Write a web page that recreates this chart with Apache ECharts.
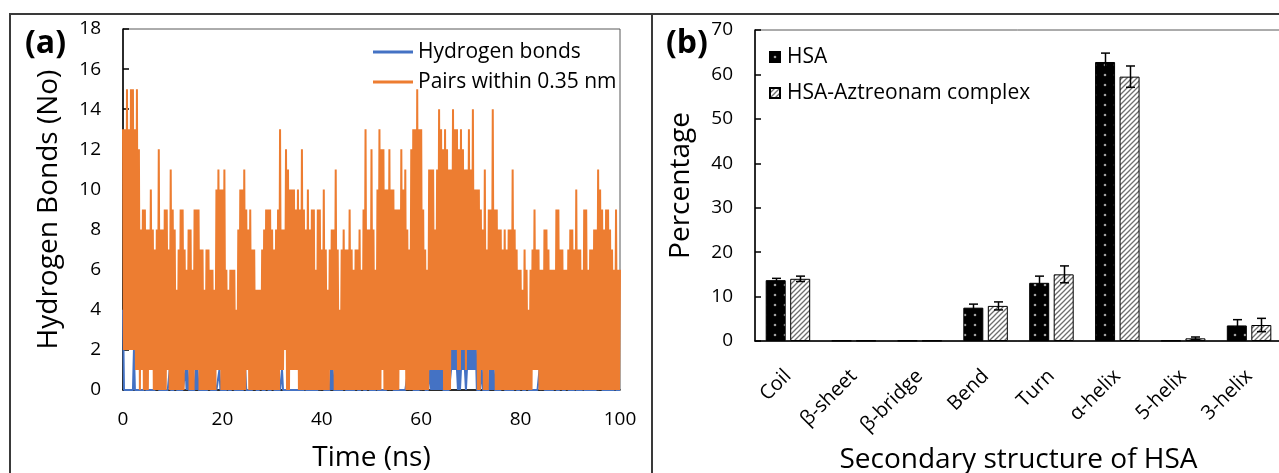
<!DOCTYPE html>
<html>
<head>
<meta charset="utf-8">
<script src="https://cdn.jsdelivr.net/npm/echarts@6/dist/echarts.min.js"></script>
<style>
  html, body { margin: 0; padding: 0; background: #fff; }
  #chart { width: 1279px; height: 473px; }
</style>
</head>
<body>
<div id="chart"></div>
<script>
// ---------- Panel (a): MD trajectory, sampled every 0.2 ns ----------
const timeStepNs = 0.2;

// Pairs within 0.35 nm (one row = 2 ns)
const pairsWithin035 = [
  13,2,13,2,15,2,13,2,15,2,
  15,2,13,1,15,1,12,0,8,1,
  9,0,9,0,8,0,8,1,10,1,
  8,0,7,0,8,0,12,0,8,0,
  8,0,9,0,9,1,7,0,11,0,
  9,0,8,0,5,0,7,0,9,0,
  9,0,7,1,6,1,8,0,8,0,
  6,0,9,1,9,1,9,0,7,0,
  7,0,5,0,7,0,7,0,6,0,
  6,0,5,0,10,1,11,1,10,0,
  10,0,11,0,6,0,5,0,6,0,
  6,0,6,0,4,0,8,0,10,0,
  10,0,11,0,9,1,8,0,9,0,
  7,0,7,0,5,0,5,0,5,0,
  7,0,8,0,9,0,9,0,9,0,
  8,0,7,0,8,0,9,0,13,1,
  8,1,8,2,12,0,11,0,10,1,
  10,1,10,1,9,1,10,0,9,0,
  12,0,9,0,8,0,10,0,8,0,
  9,0,9,0,6,0,9,0,9,0,
  7,0,10,0,7,0,5,0,7,1,
  8,1,8,0,11,0,7,0,4,0,
  7,0,8,0,7,0,7,0,9,0,
  7,0,6,0,7,0,7,0,8,0,
  6,0,9,0,13,0,8,0,8,0,
  12,0,8,0,6,0,10,0,13,0,
  12,1,12,0,10,0,10,0,12,0,
  10,0,10,0,9,0,9,0,9,1,
  12,1,10,1,11,0,8,0,7,0,
  12,0,13,0,13,0,15,0,13,0,
  13,0,9,0,7,0,6,0,11,1,
  11,1,11,1,8,1,11,1,14,1,
  13,1,12,0,13,0,12,0,11,0,
  11,2,14,2,13,2,13,1,12,1,
  13,2,12,2,11,1,11,2,13,2,
  11,2,14,2,10,2,10,0,10,0,
  9,1,8,0,11,0,7,0,9,1,
  9,1,14,1,9,0,9,0,8,0,
  8,0,7,0,8,0,7,0,8,0,
  8,0,11,0,8,0,7,0,6,0,
  6,0,5,0,7,0,6,0,4,0,
  6,0,7,1,9,1,7,1,7,0,
  6,0,6,0,8,0,8,0,7,0,
  6,0,6,0,6,0,9,0,9,0,
  7,0,7,0,6,0,6,0,7,0,
  8,0,8,0,7,0,10,0,7,0,
  7,0,6,0,9,0,9,0,6,0,
  7,0,7,0,8,0,8,0,11,0,
  10,0,9,0,8,0,9,0,9,0,
  8,0,7,0,6,0,9,0,6,0,
  6
];

// Hydrogen bonds (one row = 2 ns)
const hydrogenBonds = [
  4,0,0,0,0,0,0,0,0,0,
  0,2,0,0,0,0,0,0,0,0,
  0,0,1,0,0,0,0,0,0,0,
  0,0,0,0,0,1,0,0,0,0,
  0,0,0,0,0,0,0,1,0,0,
  0,0,0,1,0,0,0,0,0,0,
  0,0,0,1,0,1,0,0,0,0,
  0,0,0,1,0,1,0,0,0,0,
  0,0,0,0,0,0,0,1,0,0,
  0,0,0,0,0,0,0,1,0,0,
  0,0,0,0,0,1,0,0,0,0,
  0,1,0,0,0,0,0,0,0,0,
  0,0,0,1,0,0,0,0,0,0,
  0,0,0,1,0,0,0,0,0,1,
  0,0,0,0,0,1,0,0,0,0,
  0,1,0,0,0,0,0,0,0,0,
  1,0,0,0,0,0,0,0,0,0,
  0,0,0,0,0,0,0,0,0,0,
  0,0,0,1,0,0,0,0,0,0,
  0,0,0,0,0,0,0,1,0,0,
  0,1,0,0,0,0,0,0,0,1,
  0,1,0,0,0,0,0,0,0,0,
  0,0,0,1,0,0,0,0,0,0,
  0,0,0,0,0,1,0,0,0,0,
  0,1,0,0,0,0,0,1,0,0,
  0,0,0,0,0,1,0,0,0,0,
  0,0,0,0,0,0,0,1,0,0,
  0,1,0,0,0,0,0,0,0,0,
  0,0,0,0,0,0,0,1,0,0,
  0,1,0,0,0,0,0,0,0,1,
  0,0,0,1,0,0,0,0,0,1,
  0,1,0,1,0,1,0,1,0,1,
  0,1,0,0,0,0,0,0,0,0,
  1,2,1,2,1,2,1,0,1,0,
  1,2,1,2,1,0,1,2,1,2,
  1,2,1,2,1,2,0,0,0,0,
  0,1,0,0,0,0,0,0,0,1,
  0,1,0,1,0,0,0,0,0,0,
  0,0,0,1,0,0,0,0,0,0,
  0,0,0,0,0,1,0,0,0,0,
  0,1,0,0,0,0,0,1,0,0,
  0,0,0,0,0,0,0,0,0,1,
  0,0,0,1,0,0,0,0,0,0,
  0,0,0,0,0,1,0,0,0,0,
  0,1,0,0,0,0,0,1,0,0,
  0,0,0,0,0,1,0,0,0,0,
  0,0,0,1,0,0,0,0,0,0,
  0,0,0,0,0,0,0,1,0,0,
  0,1,0,0,0,0,0,0,0,0,
  0,0,0,0,0,1,0,0,0,0,
  0
];

// ---------- Panel (b): secondary structure content (%) ----------
const structures = ['Coil', 'β-sheet', 'β-bridge', 'Bend', 'Turn', 'α-helix', '5-helix', '3-helix'];
const hsaPct      = [13.7, 0.1, 0.1, 7.5, 13.1, 62.8, 0.1, 3.5];
const hsaErr      = [0.4, 0, 0, 0.8, 1.5, 2.0, 0, 1.3];
const complexPct  = [14.0, 0.1, 0.1, 7.9, 15.0, 59.5, 0.6, 3.6];
const complexErr  = [0.6, 0, 0, 0.9, 1.9, 2.4, 0.3, 1.5];

const FONT = "'Open Sans', sans-serif";
const BLUE = '#4472C4';
const ORANGE = '#ED7D31';

// Fill tiles for the bars: black with light dots, and grey diagonal hatching
function makeTile(size, draw) {
  const c = document.createElement('canvas');
  c.width = size; c.height = size;
  draw(c.getContext('2d'), size);
  return c;
}
const dotTile = makeTile(10, (g, s) => {
  g.fillStyle = '#000'; g.fillRect(0, 0, s, s);
  g.fillStyle = '#a0a0a0';
  g.beginPath(); g.arc(5, 5, 1.3, 0, Math.PI * 2); g.fill();
});
const hatchTile = makeTile(5, (g, s) => {
  g.fillStyle = '#fff'; g.fillRect(0, 0, s, s);
  g.strokeStyle = '#6e6e6e'; g.lineWidth = 1.3;
  g.beginPath();
  g.moveTo(0, s); g.lineTo(s, 0);
  g.moveTo(-1, 1); g.lineTo(1, -1);
  g.moveTo(s - 1, s + 1); g.lineTo(s + 1, s - 1);
  g.stroke();
});

const toSeries = arr => arr.map((v, i) => [+(i * timeStepNs).toFixed(1), v]);

// error bars centred on each bar (bar width 20 px, gap 22.5 %)
const BAR_W = 20, BAR_GAP = 0.225;
function errorBars(offsetSign) {
  const off = offsetSign * (BAR_W + BAR_W * BAR_GAP) / 2;
  return function (params, api) {
    const e = api.value(2);
    if (!e) return null;
    const i = api.value(0), v = api.value(1);
    const x = Math.round(api.coord([i, v])[0] + off) + 0.5;
    const yt = api.coord([i, v + e])[1];
    const yb = api.coord([i, v - e])[1];
    const st = { stroke: '#000', lineWidth: 1.5 };
    return {
      type: 'group',
      children: [
        { type: 'line', shape: { x1: x, y1: yt, x2: x, y2: yb }, style: st },
        { type: 'line', shape: { x1: x - 4.5, y1: yt, x2: x + 4.5, y2: yt }, style: st },
        { type: 'line', shape: { x1: x - 4.5, y1: yb, x2: x + 4.5, y2: yb }, style: st }
      ]
    };
  };
}

const axisText = { color: '#000', fontFamily: FONT, fontSize: 19 };
const titleText = { color: '#000', fontFamily: FONT, fontSize: 28 };
const blackLine = { show: true, lineStyle: { color: '#000', width: 1.5 } };

const chart = echarts.init(document.getElementById('chart'), null, { renderer: 'canvas' });

chart.setOption({
  backgroundColor: '#fff',
  animation: false,
  textStyle: { fontFamily: FONT },
  grid: [
    { left: 123, top: 29, width: 497, height: 361, show: true, borderColor: '#595959', borderWidth: 1, containLabel: false, outerBoundsMode: 'none' },
    { left: 755, top: 30, width: 527, height: 311, show: true, borderColor: '#595959', borderWidth: 1, containLabel: false, outerBoundsMode: 'none' }
  ],
  xAxis: [
    {
      gridIndex: 0, type: 'value', min: 0, max: 100, interval: 20,
      axisLine: blackLine, axisTick: { show: false }, splitLine: { show: false },
      axisLabel: Object.assign({ margin: 20 }, axisText),
      name: 'Time (ns)', nameLocation: 'middle', nameGap: 54, nameTextStyle: titleText
    },
    {
      gridIndex: 1, type: 'category', data: structures,
      axisLine: blackLine, axisTick: { show: false }, splitLine: { show: false },
      axisLabel: Object.assign({ rotate: 45, margin: 32, interval: 0 }, axisText, { fontSize: 20 }),
      name: 'Secondary structure of HSA', nameLocation: 'middle', nameGap: 105, nameTextStyle: titleText
    }
  ],
  yAxis: [
    {
      gridIndex: 0, type: 'value', min: 0, max: 18, interval: 2,
      axisLine: blackLine, axisTick: { show: true, inside: true, length: 6, lineStyle: { color: '#000', width: 1.5 } },
      splitLine: { show: false },
      axisLabel: Object.assign({ margin: 22 }, axisText),
      name: 'Hydrogen Bonds (No)', nameLocation: 'middle', nameGap: 60, nameTextStyle: titleText
    },
    {
      gridIndex: 1, type: 'value', min: 0, max: 70, interval: 10,
      axisLine: blackLine, axisTick: { show: true, inside: true, length: 6, lineStyle: { color: '#000', width: 1.5 } },
      splitLine: { show: false },
      axisLabel: Object.assign({ margin: 22 }, axisText),
      name: 'Percentage', nameLocation: 'middle', nameGap: 60, nameTextStyle: titleText
    }
  ],
  legend: [
    {
      data: ['Hydrogen bonds', 'Pairs within 0.35 nm'],
      orient: 'vertical', left: 368, top: 36, itemGap: 8,
      icon: 'rect', itemWidth: 40, itemHeight: 3,
      textStyle: { color: '#000', fontFamily: FONT, fontSize: 21, lineHeight: 22, padding: [0, 0, 0, 0] },
      selectedMode: false
    },
    {
      data: ['HSA', 'HSA-Aztreonam complex'],
      orient: 'vertical', left: 764, top: 41, itemGap: 14,
      icon: 'rect', itemWidth: 10, itemHeight: 10,
      textStyle: { color: '#000', fontFamily: FONT, fontSize: 21, lineHeight: 22, padding: [0, 0, 0, 2] },
      selectedMode: false
    }
  ],
  graphic: [
    // panel frames
    { type: 'line', shape: { x1: 10, y1: 14, x2: 1279, y2: 14 }, style: { stroke: '#3a3a3a', lineWidth: 2 } },
    { type: 'line', shape: { x1: 10, y1: 13, x2: 10, y2: 473 }, style: { stroke: '#3a3a3a', lineWidth: 2 } },
    { type: 'line', shape: { x1: 652, y1: 13, x2: 652, y2: 473 }, style: { stroke: '#3a3a3a', lineWidth: 2 } },
    // panel tags
    { type: 'text', left: 25, top: 28, style: { text: '(a)', fill: '#000', font: "bold 32px 'Open Sans', sans-serif" } },
    { type: 'text', left: 666, top: 28, style: { text: '(b)', fill: '#000', font: "bold 32px 'Open Sans', sans-serif" } }
  ],
  series: [
    {
      name: 'Hydrogen bonds', type: 'line', xAxisIndex: 0, yAxisIndex: 0,
      data: toSeries(hydrogenBonds), symbol: 'none', showSymbol: false,
      color: BLUE, lineStyle: { color: BLUE, width: 2, join: 'bevel' }, z: 2
    },
    {
      name: 'Pairs within 0.35 nm', type: 'line', xAxisIndex: 0, yAxisIndex: 0,
      data: toSeries(pairsWithin035), symbol: 'none', showSymbol: false,
      color: ORANGE, lineStyle: { color: ORANGE, width: 2, join: 'bevel' }, z: 3
    },
    {
      name: 'HSA', type: 'bar', xAxisIndex: 1, yAxisIndex: 1, data: hsaPct,
      barWidth: BAR_W, barGap: (BAR_GAP * 100) + '%',
      itemStyle: { color: { image: dotTile, repeat: 'repeat' }, borderColor: '#000', borderWidth: 1 }
    },
    {
      name: 'HSA-Aztreonam complex', type: 'bar', xAxisIndex: 1, yAxisIndex: 1, data: complexPct,
      barWidth: BAR_W, barGap: (BAR_GAP * 100) + '%',
      itemStyle: { color: { image: hatchTile, repeat: 'repeat' }, borderColor: '#000', borderWidth: 1 }
    },
    {
      type: 'custom', xAxisIndex: 1, yAxisIndex: 1, silent: true, z: 5,
      encode: { x: 0, y: 1 },
      data: hsaPct.map((v, i) => [i, v, hsaErr[i]]),
      renderItem: errorBars(-1)
    },
    {
      type: 'custom', xAxisIndex: 1, yAxisIndex: 1, silent: true, z: 5,
      encode: { x: 0, y: 1 },
      data: complexPct.map((v, i) => [i, v, complexErr[i]]),
      renderItem: errorBars(1)
    }
  ]
});
</script>
</body>
</html>
